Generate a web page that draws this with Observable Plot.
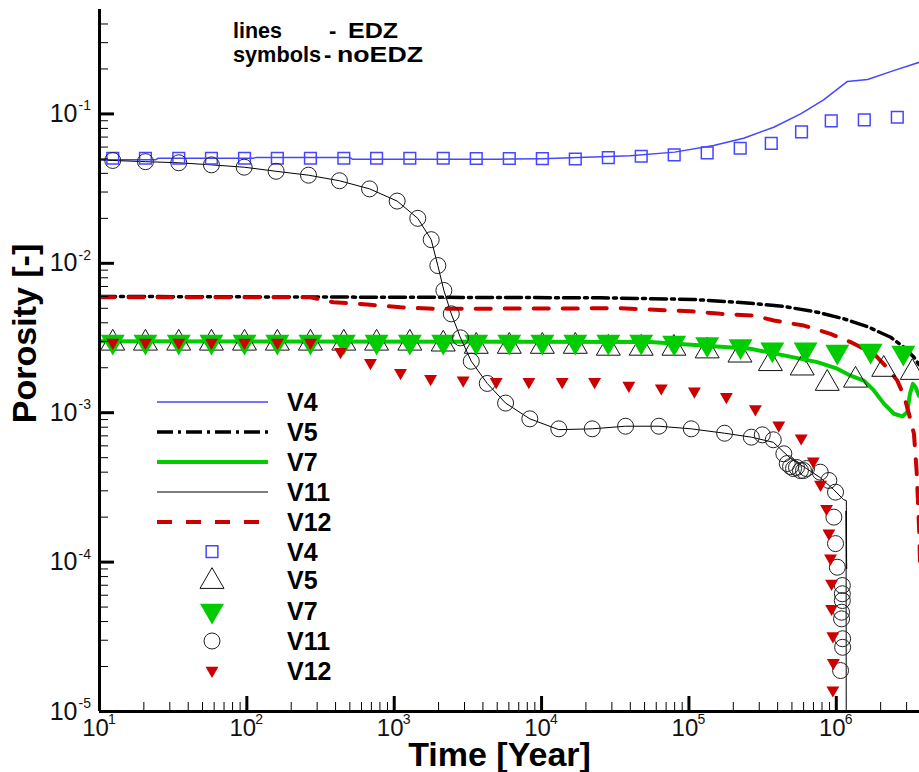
<!DOCTYPE html>
<html>
<head>
<meta charset="utf-8">
<script src="https://cdn.jsdelivr.net/npm/d3@7"></script>
<script src="https://cdn.jsdelivr.net/npm/@observablehq/plot@0.6"></script>
<style>
  html, body { margin: 0; padding: 0; background: #fff; }
  #wrap { position: relative; width: 919px; height: 772px; overflow: hidden; }
  #wrap svg.overlay { position: absolute; left: 0; top: 0; pointer-events: none; }
</style>
</head>
<body>
<div id="wrap"></div>
<script>
// ---- Porosity versus time, EDZ (lines) and noEDZ (symbols) ----

// Series colours
const BLUE = "#4646ff";
const GREEN = "#00cc00";
const RED = "#cc0000";
const BLACK = "#000000";

// Line series (EDZ case)
const v4LineTime  = [10, 24, 25, 110, 115, 500, 520, 5000, 10000, 20000, 40000, 80000, 147000, 235000, 376000, 573000, 820000, 1190000, 1630000, 2450000, 3670000];
const v4LineValue = [0.0493, 0.0493, 0.0505, 0.0505, 0.0510, 0.0510, 0.0498, 0.0498, 0.0502, 0.0512, 0.0525, 0.0555, 0.0615, 0.0688, 0.0814, 0.100, 0.124, 0.165, 0.170, 0.195, 0.222];

const v5LineTime  = [10, 25120, 107400, 261200, 440600, 743000, 1127000, 1622000, 2339000, 2877000, 3365000, 3673000];
const v5LineValue = [0.00600, 0.00588, 0.00573, 0.00541, 0.00514, 0.00471, 0.00425, 0.00377, 0.00320, 0.00274, 0.00235, 0.00207];

const v7LineTime  = [10, 54900, 261200, 440600, 743000, 1016000, 1250000, 1538000, 1799000, 2104000, 2460000, 2805000, 3034000, 3162000, 3311000, 3451000, 3639000];
const v7LineValue = [0.00301, 0.00297, 0.00268, 0.00242, 0.00218, 0.00197, 0.00177, 0.00164, 0.00141, 0.00115, 0.000984, 0.000944, 0.00101, 0.00134, 0.00156, 0.00148, 0.00130];

const v11LineTime  = [10, 12.3, 20.5, 34.5, 57.5, 95.9, 158, 262, 425, 680, 1047, 1445, 1782, 1977, 2173, 2439, 2818, 3334, 4279, 5698, 8324, 13090, 22070, 37150, 62510, 103700, 174600, 265000, 373600, 489300, 628000, 778000, 959000, 1120000, 1170000, 1175000, 1165000, 1170000];
const v11LineValue = [0.0493, 0.0488, 0.0479, 0.0471, 0.0456, 0.0440, 0.0413, 0.0389, 0.0357, 0.0315, 0.0261, 0.0200, 0.0144, 0.00966, 0.00658, 0.00459, 0.00317, 0.00221, 0.00157, 0.00116, 0.000910, 0.000770, 0.000780, 0.000812, 0.000812, 0.000780, 0.000729, 0.000686, 0.000634, 0.000494, 0.000423, 0.000368, 0.000306, 0.000262, 0.000258, 0.000090, 0.000220, 0.000001];

const v12LineTime  = [10, 270, 387, 656, 1104, 1849, 34360, 102600, 164100, 274800, 377600, 602600, 914100, 1250000, 1799000, 2218000, 2594000, 2877000, 3112000, 3365000, 3508000, 3581000, 3656000, 3700000];
const v12LineValue = [0.00593, 0.00593, 0.00549, 0.00530, 0.00508, 0.00496, 0.00500, 0.00478, 0.00459, 0.00447, 0.00414, 0.00383, 0.00337, 0.00297, 0.00248, 0.00200, 0.00164, 0.00130, 0.000984, 0.000723, 0.000410, 0.000258, 0.000158, 0.000100];

// Symbol series (noEDZ case)
const v4SymTime  = [12.3, 20.5, 34.5, 57.5, 96.4, 161, 270, 455, 759, 1276, 2151, 3603, 6039, 10120, 16940, 28380, 47450, 79430, 133000, 222800, 362000, 581000, 924000, 1549000, 2594000];
const v4SymValue = [0.0505, 0.0505, 0.0505, 0.0505, 0.0505, 0.0505, 0.0505, 0.0505, 0.0505, 0.0505, 0.0505, 0.0503, 0.0503, 0.0502, 0.0499, 0.0510, 0.0521, 0.0532, 0.0549, 0.0589, 0.0636, 0.0759, 0.0899, 0.0913, 0.0950];

const v5SymTime  = [12.3, 20.5, 34.5, 57.5, 96.4, 161, 270, 455, 759, 1276, 2151, 3603, 6039, 10120, 16940, 28380, 47450, 79100, 133000, 222000, 357000, 587000, 868000, 1350000, 2100000, 3280000];
const v5SymValue = [0.00292, 0.00292, 0.00292, 0.00292, 0.00292, 0.00292, 0.00292, 0.00292, 0.00292, 0.00292, 0.00288, 0.00278, 0.00278, 0.00278, 0.00278, 0.00270, 0.00270, 0.00270, 0.00259, 0.00243, 0.00213, 0.00199, 0.00157, 0.00165, 0.00195, 0.00186];

const v7SymTime  = [12.3, 20.5, 34.5, 57.5, 96.4, 161, 270, 455, 759, 1276, 2151, 3603, 6039, 10120, 16940, 28380, 47450, 79430, 133000, 224000, 368000, 619000, 1016000, 1710000, 2850000];
const v7SymValue = [0.00299, 0.00299, 0.00299, 0.00299, 0.00299, 0.00299, 0.00299, 0.00299, 0.00299, 0.00299, 0.00299, 0.00299, 0.00299, 0.00299, 0.00299, 0.00299, 0.00299, 0.00294, 0.00288, 0.00279, 0.00265, 0.00265, 0.00256, 0.00260, 0.00252];

const v11SymTime  = [12.3, 20.5, 34.5, 57.5, 95.9, 158, 262, 425, 680, 1047, 1445, 1782, 1977, 2173, 2439, 2818, 3334, 4279, 5698, 8324, 13090, 22070, 37150, 62510, 103700, 174600, 265000, 314600, 373600, 440600, 464500, 489300, 512700, 537000, 571000, 599000, 628000, 778000, 890000, 988000, 963000, 988000, 1016000, 1099000, 1099000, 1099000, 1086000, 1086000, 1104000, 1104000, 1069000];
const v11SymValue = [0.0488, 0.0479, 0.0471, 0.0456, 0.0440, 0.0413, 0.0389, 0.0357, 0.0315, 0.0261, 0.0200, 0.0144, 0.00966, 0.00658, 0.00459, 0.00317, 0.00221, 0.00157, 0.00116, 0.000910, 0.000780, 0.000780, 0.000812, 0.000812, 0.000780, 0.000729, 0.000686, 0.000711, 0.000659, 0.000531, 0.000457, 0.000436, 0.000423, 0.000430, 0.000410, 0.000410, 0.000423, 0.000400, 0.000352, 0.000294, 0.000200, 0.000133, 0.0000924, 0.0000697, 0.0000614, 0.0000553, 0.0000462, 0.0000417, 0.0000307, 0.0000269, 0.0000188];

const v12SymTime  = [12.3, 20.5, 34.5, 57.5, 96.4, 161, 270, 432, 690, 1104, 1766, 2938, 4920, 8200, 13800, 22900, 39100, 64900, 108900, 179500, 282500, 407000, 578000, 698000, 782000, 859000, 891000, 914000, 929000, 929000, 948000, 955000, 948000];
const v12SymValue = [0.00295, 0.00295, 0.00295, 0.00295, 0.00295, 0.00295, 0.00295, 0.00256, 0.00216, 0.00185, 0.00169, 0.00165, 0.00161, 0.00161, 0.00161, 0.00161, 0.00152, 0.00146, 0.00139, 0.00128, 0.00106, 0.000824, 0.000676, 0.000473, 0.000331, 0.000228, 0.000156, 0.000106, 0.0000718, 0.0000488, 0.0000320, 0.0000212, 0.0000139];

// Axis ticks and labels
const xTickValues = [10, 1e2, 1e3, 1e4, 1e5, 1e6];
const xTickExponents = ["1", "2", "3", "4", "5", "6"];
const yTickValues = [1e-5, 1e-4, 1e-3, 1e-2, 1e-1];
const yTickExponents = ["-5", "-4", "-3", "-2", "-1"];
const minorMultipliers = [2, 3, 4, 5, 6, 7, 8, 9];
const xMinorTicks = xTickValues.flatMap(d => minorMultipliers.map(m => m * d)).filter(v => v < 3.6e6);
const yMinorTicks = yTickValues.flatMap(d => minorMultipliers.map(m => m * d)).filter(v => v < 0.45);

// Legend entries
const lineNames = ["V4", "V5", "V7", "V11", "V12"];
const symbolNames = ["V4", "V5", "V7", "V11", "V12"];

const pairs = (t, v) => t.map((x, i) => ({t: x, v: v[i]}));

// Downward-pointing triangle, same area convention as d3.symbolTriangle
const triangleDown = {
  draw(ctx, size) {
    const y = Math.sqrt(size / (3 * Math.sqrt(3)));
    ctx.moveTo(0, 2 * y);
    ctx.lineTo(Math.sqrt(3) * y, -y);
    ctx.lineTo(-Math.sqrt(3) * y, -y);
    ctx.closePath();
  }
};

const lineStyles = [
  {data: pairs(v4LineTime, v4LineValue),   stroke: BLUE,  strokeWidth: 1.5, dash: null},
  {data: pairs(v5LineTime, v5LineValue),   stroke: BLACK, strokeWidth: 3.5, dash: "16,5,3,5"},
  {data: pairs(v7LineTime, v7LineValue),   stroke: GREEN, strokeWidth: 4,   dash: null},
  {data: pairs(v11LineTime, v11LineValue), stroke: BLACK, strokeWidth: 1,   dash: null},
  {data: pairs(v12LineTime, v12LineValue), stroke: RED,   strokeWidth: 4,   dash: "15,14"}
];

const symbolStyles = [
  {data: pairs(v4SymTime, v4SymValue),   symbol: d3.symbolSquare,   r: 6.6, fill: "none", stroke: BLUE, strokeWidth: 1.5},
  {data: pairs(v5SymTime, v5SymValue),   symbol: d3.symbolTriangle, r: 8.9, fill: "none", stroke: "#111", strokeWidth: 1},
  {data: pairs(v7SymTime, v7SymValue),   symbol: triangleDown,      r: 8.9, fill: GREEN,  stroke: "none", strokeWidth: 0},
  {data: pairs(v11SymTime, v11SymValue), symbol: d3.symbolCircle,   r: 8,   fill: "none", stroke: "#222", strokeWidth: 1},
  {data: pairs(v12SymTime, v12SymValue), symbol: triangleDown,      r: 4.8, fill: RED,    stroke: "none", strokeWidth: 0}
];

const xTicks = xTickValues.map((v, i) => ({v, e: xTickExponents[i]}));
const yTicks = yTickValues.map((v, i) => ({v, e: yTickExponents[i]}));
const FONT = "'Liberation Sans', Arial, Helvetica, sans-serif";

const chart = Plot.plot({
  width: 919,
  height: 772,
  marginLeft: 99,
  marginRight: 0,
  marginTop: 9,
  marginBottom: 61,
  x: {type: "log", domain: [10, 3.67e6], axis: null},
  y: {type: "log", domain: [1e-5, 0.5], axis: null},
  style: {fontFamily: FONT, background: "#fff", color: "#000", overflow: "visible"},
  marks: [
    // lines
    ...lineStyles.map(s => Plot.line(s.data, {
      x: "t", y: "v", stroke: s.stroke, strokeWidth: s.strokeWidth,
      strokeDasharray: s.dash, clip: true
    })),
    // symbols
    ...symbolStyles.map(s => Plot.dot(s.data, {
      x: "t", y: "v", symbol: s.symbol, r: s.r, fill: s.fill,
      stroke: s.stroke, strokeWidth: s.strokeWidth
    })),
    // axis frame lines
    Plot.ruleX([10], {stroke: BLACK, strokeWidth: 3}),
    Plot.ruleY([1e-5], {stroke: BLACK, strokeWidth: 3}),
    // inward ticks
    Plot.axisX(xTickValues, {anchor: "bottom", tickSize: -15, strokeWidth: 3, tickFormat: () => "", label: null}),
    Plot.axisX(xMinorTicks, {anchor: "bottom", tickSize: -9, strokeWidth: 1, tickFormat: () => "", label: null}),
    Plot.axisY(yTickValues, {anchor: "left", tickSize: -15, strokeWidth: 3, tickFormat: () => "", label: null}),
    Plot.axisY(yMinorTicks, {anchor: "left", tickSize: -9, strokeWidth: 1, tickFormat: () => "", label: null}),
    // tick labels: 10 with superscript exponent
    Plot.text(xTicks, {x: "v", frameAnchor: "bottom", text: () => "10", textAnchor: "middle", dx: -4, dy: 17, lineAnchor: "middle", fontSize: 24, fill: "#111"}),
    Plot.text(xTicks, {x: "v", frameAnchor: "bottom", text: "e", textAnchor: "start", dx: 8.5, dy: 8, lineAnchor: "middle", fontSize: 14, fill: "#111"}),
    Plot.text(yTicks, {y: "v", frameAnchor: "left", text: () => "10", textAnchor: "end", dx: -22, lineAnchor: "middle", fontSize: 25, fill: "#111"}),
    Plot.text(yTicks, {y: "v", frameAnchor: "left", text: "e", textAnchor: "start", dx: -21, dy: -8, lineAnchor: "middle", fontSize: 14, fill: "#111"}),
    // axis titles
    Plot.text(["Time [Year]"], {frameAnchor: "bottom", text: d => d, textAnchor: "middle", dx: -10, dy: 44, lineAnchor: "middle", fontSize: 34, fontWeight: "bold"}),
    Plot.text(["Porosity [-]"], {frameAnchor: "left", text: d => d, textAnchor: "middle", rotate: -90, dx: -74, dy: -27, lineAnchor: "middle", fontSize: 34, fontWeight: "bold"})
  ]
});

const wrap = document.getElementById("wrap");
wrap.appendChild(chart);

// Legend and key note drawn over the plot
const overlay = d3.select(wrap).append("svg")
  .attr("class", "overlay")
  .attr("width", 919).attr("height", 772)
  .style("font-family", FONT);

const note = overlay.append("g").attr("font-weight", "bold").attr("font-size", 22);
[["lines", 233, 38, 49], ["-", 329, 38, null], ["EDZ", 348, 38, 50],
 ["symbols", 233, 62, 88], ["-", 324, 62, null], ["noEDZ", 337, 62, 86]].forEach(([t, x, y, w]) => {
  const el = note.append("text").attr("x", x).attr("y", y).text(t);
  if (w) el.attr("textLength", w).attr("lengthAdjust", "spacingAndGlyphs");
});

const legend = overlay.append("g");
const lineRowY = [402, 432, 462, 492, 522];
lineStyles.forEach((s, i) => {
  legend.append("line")
    .attr("x1", 157).attr("x2", 268)
    .attr("y1", lineRowY[i]).attr("y2", lineRowY[i])
    .attr("stroke", s.stroke).attr("stroke-width", s.strokeWidth)
    .attr("stroke-dasharray", s.dash);
  legend.append("text")
    .attr("x", 287).attr("y", lineRowY[i]).attr("dy", "0.36em")
    .attr("font-weight", "bold").attr("font-size", 25)
    .text(lineNames[i]);
});
const symRowY = [551.7, 581.5, 610.7, 641, 670.6];
const symLabelY = [551.7, 580, 610.5, 641, 670.6];
symbolStyles.forEach((s, i) => {
  legend.append("path")
    .attr("transform", `translate(212,${symRowY[i]})`)
    .attr("d", d3.symbol(s.symbol, Math.PI * s.r * s.r)())
    .attr("fill", s.fill).attr("stroke", s.stroke).attr("stroke-width", s.strokeWidth);
  legend.append("text")
    .attr("x", 287).attr("y", symLabelY[i]).attr("dy", "0.36em")
    .attr("font-weight", "bold").attr("font-size", 25)
    .text(symbolNames[i]);
});
</script>
</body>
</html>
